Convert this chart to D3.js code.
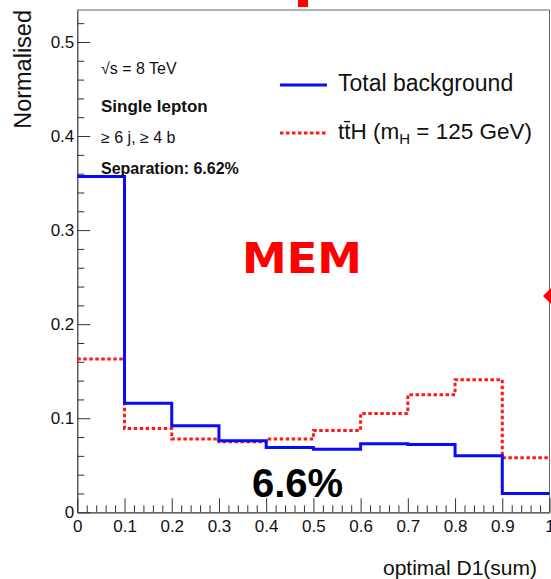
<!DOCTYPE html>
<html>
<head>
<meta charset="utf-8">
<script src="https://cdn.jsdelivr.net/npm/d3@7"></script>
<style>
  body { margin: 0; background: #fff; }
  svg { display: block; font-family: "Liberation Sans", Arial, sans-serif; }
</style>
</head>
<body>
<script>
// bin edges of optimal D1(sum)
const binEdges = [0, 0.1, 0.2, 0.3, 0.4, 0.5, 0.6, 0.7, 0.8, 0.9, 1.0];
// Total background, normalised
const bkgValues = [0.357, 0.116, 0.092, 0.076, 0.069, 0.067, 0.073, 0.072, 0.060, 0.020];
// ttH (mH = 125 GeV), normalised
const tthValues = [0.163, 0.089, 0.078, 0.075, 0.078, 0.087, 0.105, 0.125, 0.141, 0.058];
const xTicks = [0, 0.1, 0.2, 0.3, 0.4, 0.5, 0.6, 0.7, 0.8, 0.9, 1];
const yTicks = [0, 0.1, 0.2, 0.3, 0.4, 0.5];

const WIDTH = 551;
const HEIGHT = 579;

const svg = d3.select('body')
  .append('svg')
  .attr('width', WIDTH)
  .attr('height', HEIGHT);

const x = d3.scaleLinear().domain([0, 1]).range([77.3, 549.5]);
const y = d3.scaleLinear().domain([0, 0.534]).range([512.3, 10]);

const fmt = (d) => String(+d.toFixed(1));

// frame (top / right)
svg.append('path')
  .attr('d', `M${x(0)},${y(0.534)}H${x(1)}V${y(0)}`)
  .attr('fill', 'none')
  .attr('stroke', '#666')
  .attr('stroke-width', 1);

// minor ticks
const minorX = d3.range(0, 1.001, 0.02).filter((v) => Math.abs(v * 10 - Math.round(v * 10)) > 1e-6);
const minorY = d3.range(0, 0.531, 0.02).filter((v) => Math.abs(v * 10 - Math.round(v * 10)) > 1e-6);

svg.append('g')
  .attr('transform', `translate(0,${y(0)})`)
  .call(d3.axisBottom(x).tickValues(minorX).tickSizeInner(-7).tickSizeOuter(0).tickFormat(''))
  .call((g) => g.select('.domain').remove())
  .selectAll('line').attr('stroke', '#333');

svg.append('g')
  .attr('transform', `translate(${x(0)},0)`)
  .call(d3.axisLeft(y).tickValues(minorY).tickSizeInner(-7).tickSizeOuter(0).tickFormat(''))
  .call((g) => g.select('.domain').remove())
  .selectAll('line').attr('stroke', '#333');

// major axes
const xAxis = svg.append('g')
  .attr('transform', `translate(0,${y(0)})`)
  .call(d3.axisBottom(x).tickValues(xTicks).tickSizeInner(-14).tickSizeOuter(0).tickPadding(8).tickFormat(fmt));

const yAxis = svg.append('g')
  .attr('transform', `translate(${x(0)},0)`)
  .call(d3.axisLeft(y).tickValues(yTicks).tickSizeInner(-13).tickSizeOuter(0).tickPadding(3).tickFormat(fmt));

[xAxis, yAxis].forEach((g) => {
  g.select('.domain').attr('stroke', '#333').attr('stroke-width', 1.2);
  g.selectAll('line').attr('stroke', '#333');
  g.selectAll('text')
    .attr('font-family', '"Liberation Sans", Arial, sans-serif')
    .attr('font-size', 17)
    .attr('fill', '#111');
});

// histograms as step lines
function stepPoints(vals) {
  return binEdges.map((e, i) => [e, vals[Math.min(i, vals.length - 1)]]);
}
const line = d3.line()
  .x((d) => x(d[0]))
  .y((d) => y(d[1]))
  .curve(d3.curveStepAfter);

svg.append('path')
  .attr('d', line(stepPoints(tthValues)))
  .attr('fill', 'none')
  .attr('stroke', '#ff1a1a')
  .attr('stroke-width', 3)
  .attr('stroke-dasharray', '3.5,2.5');

svg.append('path')
  .attr('d', line(stepPoints(bkgValues)))
  .attr('fill', 'none')
  .attr('stroke', '#0a0aff')
  .attr('stroke-width', 3);

// axis titles
svg.append('text')
  .attr('transform', 'translate(31,10) rotate(-90)')
  .attr('text-anchor', 'end')
  .attr('font-size', 23.5)
  .attr('fill', '#111')
  .text('Normalised');

svg.append('text')
  .attr('x', 537)
  .attr('y', 575)
  .attr('text-anchor', 'end')
  .attr('font-size', 21)
  .attr('fill', '#111')
  .text('optimal D1(sum)');

// info text
const info = [
  { t: '\u221As = 8 TeV', y: 74, size: 16, w: 'normal' },
  { t: 'Single lepton', y: 111.5, size: 17, w: 'bold' },
  { t: '\u2265 6 j, \u2265 4 b', y: 143, size: 16, w: 'normal' },
  { t: 'Separation: 6.62%', y: 174, size: 16, w: 'bold' }
];
svg.selectAll('text.info')
  .data(info)
  .enter()
  .append('text')
  .attr('class', 'info')
  .attr('x', 101)
  .attr('y', (d) => d.y)
  .attr('font-size', (d) => d.size)
  .attr('font-weight', (d) => d.w)
  .attr('fill', '#111')
  .text((d) => d.t);

// legend
const legend = svg.append('g');
legend.append('line')
  .attr('x1', 280).attr('x2', 327).attr('y1', 85).attr('y2', 85)
  .attr('stroke', '#0a0aff').attr('stroke-width', 3);
legend.append('text')
  .attr('x', 338).attr('y', 91)
  .attr('font-size', 23).attr('fill', '#111')
  .text('Total background');
legend.append('line')
  .attr('x1', 280).attr('x2', 327).attr('y1', 133).attr('y2', 133)
  .attr('stroke', '#ff1a1a').attr('stroke-width', 3)
  .attr('stroke-dasharray', '3.5,2.5');
const tthLabel = legend.append('text')
  .attr('x', 338).attr('y', 139)
  .attr('font-size', 22.5).attr('fill', '#111');
tthLabel.append('tspan').text('tt\u0304H (m');
tthLabel.append('tspan').attr('font-size', 15).attr('dy', 5).text('H');
tthLabel.append('tspan').attr('dy', -5).text(' = 125 GeV)');

// annotations
svg.append('text')
  .attr('x', 242).attr('y', 273)
  .attr('font-family', '"DejaVu Sans", sans-serif')
  .attr('font-weight', 'bold')
  .attr('font-size', 43)
  .attr('fill', '#ff0000')
  .attr('textLength', 120)
  .attr('lengthAdjust', 'spacingAndGlyphs')
  .text('MEM');

svg.append('text')
  .attr('x', 252).attr('y', 497)
  .attr('font-weight', 'bold')
  .attr('font-size', 40)
  .attr('fill', '#000')
  .text('6.6%');

// red arrow pieces cropped at the picture edges
svg.append('rect')
  .attr('x', 298).attr('y', 0).attr('width', 10).attr('height', 7)
  .attr('fill', '#ff0000');
svg.append('path')
  .attr('d', 'M543,296L551,288V304Z')
  .attr('fill', '#ff0000');
</script>
</body>
</html>
